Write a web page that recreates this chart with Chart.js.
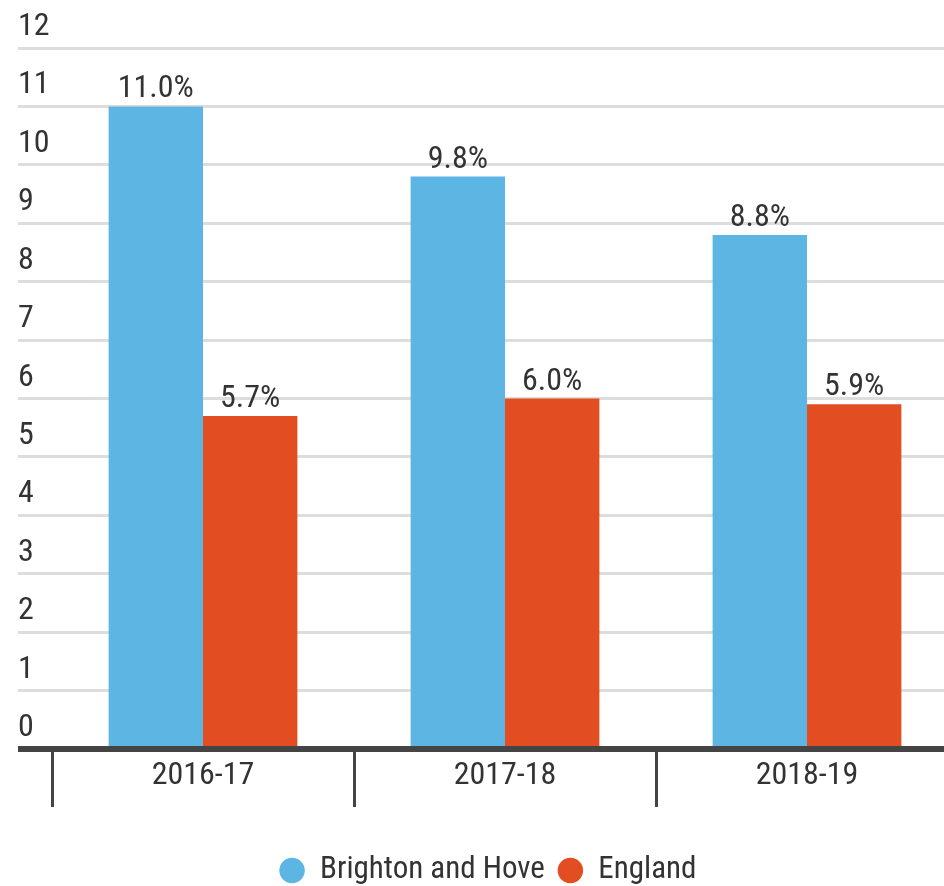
<!DOCTYPE html>
<html>
<head>
<meta charset="utf-8">
<script src="https://cdn.jsdelivr.net/npm/chart.js@4.4.1/dist/chart.umd.min.js"></script>
<style>
    html, body { margin: 0; padding: 0; background: #fff; overflow: hidden; }
    .chart_wrap { width: 960px; height: 896px; }
</style>
</head>
<body>
<div class="chart_wrap"><canvas id="bar_chart" width="960" height="896"></canvas></div>
<script>
// chart data
const years = ['2016-17', '2017-18', '2018-19'];
const brightonValues = [11.0, 9.8, 8.8];
const englandValues = [5.7, 6.0, 5.9];
const yTickMin = 0;
const yTickMax = 12;
const yTickStep = 1;

// condensed width goes in the weight slot of the font string
const fontFamily = "Roboto, 'DejaVu Sans Condensed', sans-serif";
const fontStretch = 'condensed';
const fontSize = 32;
const textColor = '#333333';
const blue = '#5db5e4';
const red = '#e24e22';
const chartFont = { size: fontSize, family: fontFamily, weight: fontStretch };

//values above bars
const barValueLabels = {
    id: 'barValueLabels',
    afterDatasetsDraw(chart) {
        const ctx = chart.ctx;
        ctx.save();
        ctx.font = `${fontStretch} ${fontSize}px ${fontFamily}`;
        ctx.fillStyle = textColor;
        ctx.textAlign = 'center';
        ctx.textBaseline = 'alphabetic';
        chart.data.datasets.forEach((dataset, i) => {
            chart.getDatasetMeta(i).data.forEach((bar, j) => {
                ctx.fillText(dataset.data[j].toFixed(1) + '%', bar.x, bar.y - 9);
            });
        });
        ctx.restore();
    }
};

const barChart = document.getElementById('bar_chart').getContext('2d');

new Chart(barChart, {
    type: 'bar',
    data: {
        labels: years,
        datasets: [{
            label: 'Brighton and Hove',
            data: brightonValues,
            backgroundColor: blue,
            borderWidth: 0
        }, {
            label: 'England',
            data: englandValues,
            backgroundColor: red,
            borderWidth: 0
        }]
    },
    options: {
        responsive: false,
        animation: false,
        layout: {
            padding: { top: 48, left: 18, right: 2, bottom: 0 }
        },
        datasets: {
            bar: {
                barPercentage: 1,
                categoryPercentage: 0.625
            }
        },
        plugins: {
            legend: {
                position: 'bottom',
                labels: {
                    usePointStyle: true,
                    pointStyle: 'circle',
                    boxWidth: 25,
                    boxHeight: 18,
                    padding: 13,
                    color: textColor,
                    font: { size: 31, family: fontFamily, weight: fontStretch }
                }
            },
            tooltip: { enabled: false }
        },
        scales: {
            y: {
                min: yTickMin,
                max: yTickMax,
                ticks: {
                    stepSize: yTickStep,
                    crossAlign: 'far',
                    labelOffset: -21,
                    padding: 0,
                    color: textColor,
                    font: chartFont
                },
                grid: {
                    color: (c) => c.tick && c.tick.value === 0 ? '#444444' : '#dddddd',
                    lineWidth: (c) => c.tick && c.tick.value === 0 ? 6 : 3,
                    drawTicks: true,
                    tickLength: 34
                },
                border: { display: false },
                afterFit: (scale) => {
                    scale.width = 34;
                }
            },
            x: {
                z: 1,
                grid: {
                    offset: true,
                    drawOnChartArea: false,
                    drawTicks: true,
                    tickLength: 58,
                    color: '#444444',
                    lineWidth: 3
                },
                border: { display: true, color: '#444444', width: 6 },
                ticks: {
                    padding: -50,
                    autoSkip: false,
                    maxRotation: 0,
                    minRotation: 0,
                    color: textColor,
                    font: chartFont
                },
                afterFit: (scale) => {
                    scale.height = 93;
                }
            }
        }
    },
    plugins: [barValueLabels]
});
</script>
</body>
</html>
